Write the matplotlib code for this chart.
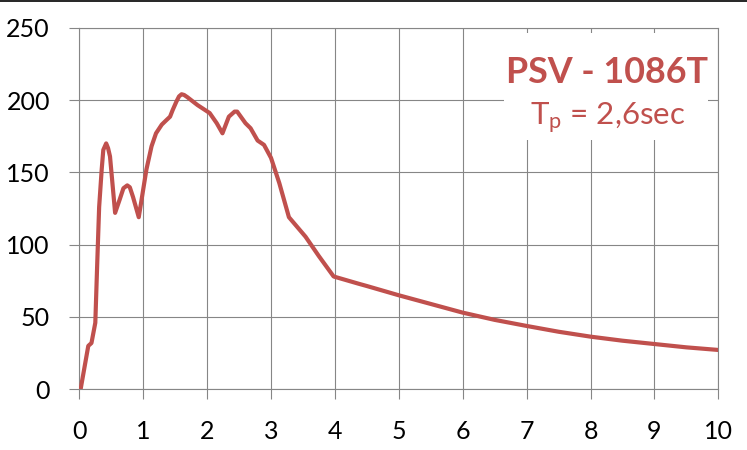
import matplotlib
matplotlib.use("Agg")
import matplotlib.pyplot as plt
from matplotlib.patches import Rectangle
from matplotlib.lines import Line2D

plt.rcParams['font.family'] = ['Lato', 'DejaVu Sans']
plt.rcParams['mathtext.fontset'] = 'custom'
plt.rcParams['mathtext.rm'] = 'Lato'
plt.rcParams['mathtext.it'] = 'Lato:italic'

# Period (sec)
period = [0.02, 0.14, 0.19, 0.25, 0.28, 0.31, 0.35, 0.375, 0.42, 0.45, 0.48,
          0.56, 0.63, 0.69, 0.75, 0.79, 0.84, 0.93, 1.05, 1.13, 1.2, 1.29,
          1.36, 1.42, 1.46, 1.52, 1.56, 1.6, 1.64, 1.69, 1.85, 2.04, 2.15,
          2.24, 2.34, 2.43, 2.47, 2.6, 2.68, 2.79, 2.89, 3.0, 3.13, 3.28,
          3.54, 3.75, 3.98, 4.37, 4.5, 5.0, 5.5, 6.0, 6.5, 7.0, 7.5, 8.0,
          8.5, 9.0, 9.5, 10.0]
# Pseudo spectral velocity
psv = [0, 30, 32, 46, 87, 126, 152, 165.5, 170, 166.7, 161,
       122, 131, 139, 141, 139.7, 133, 119, 152, 168, 177, 183,
       186, 188.5, 193, 199, 202.5, 204, 203.5, 202, 196.5, 191, 184,
       177, 188.5, 192, 192, 184, 180.5, 172, 169, 160, 142.5, 119,
       105.5, 92, 78, 73, 71.4, 65, 59, 53, 48, 43.8, 39.8, 36.4,
       33.6, 31.3, 29, 27.2]

xticks = [0, 1, 2, 3, 4, 5, 6, 7, 8, 9, 10]
yticks = [0, 50, 100, 150, 200, 250]
title_text = "PSV - 1086T"
sub_text = "T$_{\\mathrm{p}}$ = 2,6sec"

red = "#C0504D"
gray = "#868686"

fig = plt.figure(figsize=(7.47, 4.5), dpi=100)
ax = fig.add_axes([0.1062, 0.1349, 0.9616 - 0.1062, 0.9384 - 0.1349])

ax.plot(period, psv, color=red, lw=3.0, solid_joinstyle='round',
        solid_capstyle='round', zorder=4)

ax.set_xlim(0, 10)
ax.set_ylim(0, 250)
ax.set_xticks(xticks)
ax.set_yticks(yticks)
ax.set_xticklabels([str(t) for t in xticks])
ax.set_yticklabels([str(t) for t in yticks])
ax.grid(True, color=gray, lw=0.8)
ax.set_axisbelow(True)
for s in ax.spines.values():
    s.set_color(gray)
    s.set_linewidth(0.8)
ax.tick_params(axis='both', direction='out', length=7.2, width=0.8,
               color=gray, labelsize=18, labelcolor='black')
ax.tick_params(axis='y', pad=14)
ax.tick_params(axis='x', pad=15)

# white label box
ax.add_patch(Rectangle((504 / 747, 1 - 140 / 450), 204 / 747, 107 / 450,
                       transform=fig.transFigure, facecolor='white',
                       edgecolor='none', zorder=3, clip_on=False))
fig.text(607 / 747, 1 - 83.3 / 450, title_text, color=red, fontsize=25.8,
         fontweight='bold', ha='center', va='baseline', zorder=5)
fig.text(608 / 747, 1 - 125 / 450, sub_text, color=red, fontsize=22.5,
         ha='center', va='baseline', zorder=5)

# top border line
fig.add_artist(Line2D([0, 1], [1 - 0.6 / 450, 1 - 0.6 / 450],
                      transform=fig.transFigure, color='black', lw=1.2))

fig.savefig("out.png", dpi=100)
